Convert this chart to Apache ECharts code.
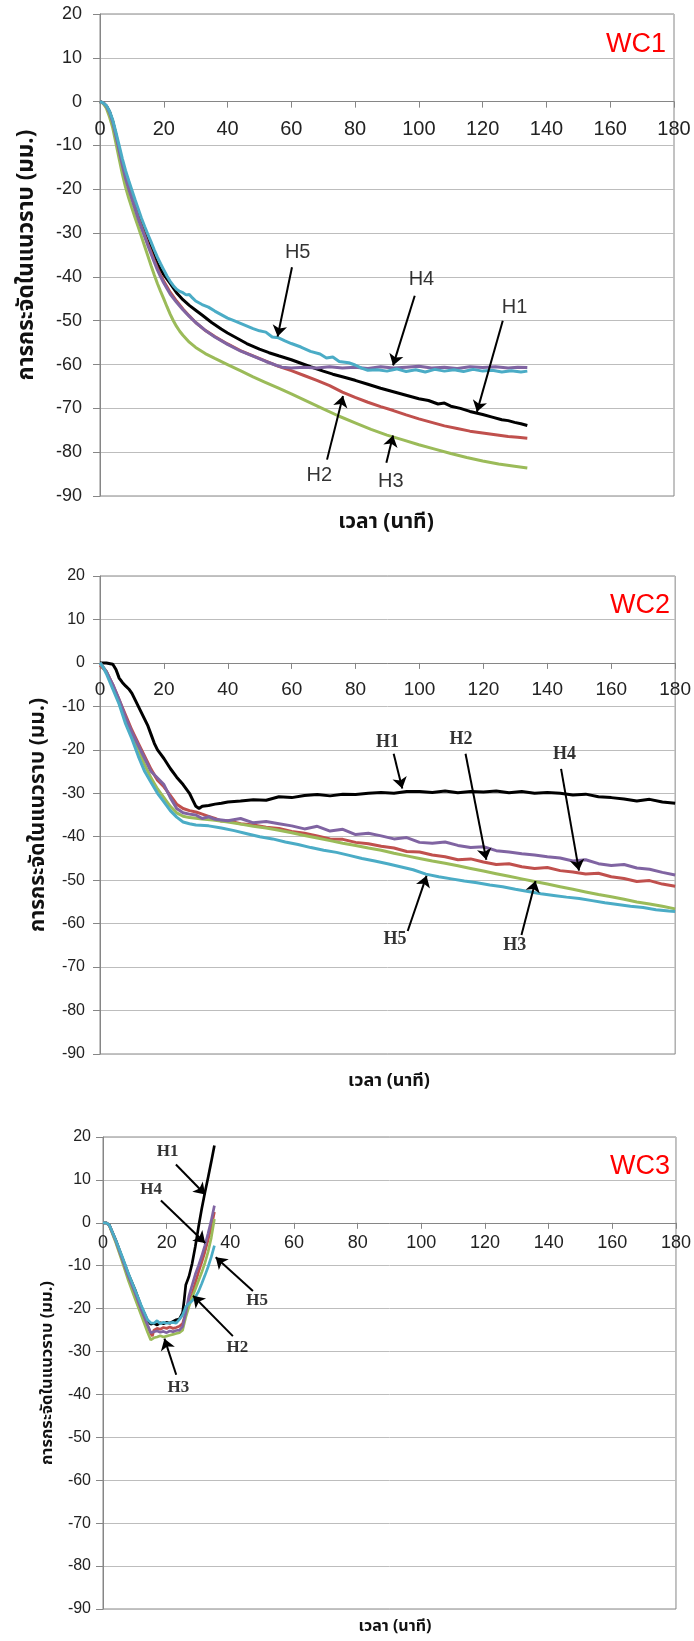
<!DOCTYPE html>
<html>
<head>
<meta charset="utf-8">
<script src="https://cdn.jsdelivr.net/npm/echarts@6/dist/echarts.min.js"></script>
<style>
html,body{margin:0;padding:0;background:#fff;}
#chart{width:694px;height:1641px;}
</style>
</head>
<body>
<div id="chart"></div>
<script>
// ---------- tick / axis data ----------
const xTicks = {min: 0, max: 180, interval: 20};
const yTicks = {min: -90, max: 20, interval: 10};
const yTitle = 'การกระจัดในแนวราบ (มม.)';
const xTitle = 'เวลา (นาที)';
const panelNames = ['WC1', 'WC2', 'WC3'];
const seriesNames = ['H1', 'H2', 'H3', 'H4', 'H5'];

// ---------- WC1 ----------
const wc1H1 = [[0,0],[1,-0.3],[2,-1],[3,-2.3],[4,-4.5],[5,-7.5],[6,-11],[7,-14],[8,-17],[9,-19.3],[10,-21.5],[11,-23.8],[12,-26],[13,-28],[14,-30],[15,-31.8],[16,-33.5],[17,-35.3],[18,-37],[19,-38.3],[20,-39.5],[22,-41.5],[24,-43.6],[26,-45.2],[28,-46.5],[30,-47.6],[32,-48.7],[35,-50.4],[38,-51.9],[40,-52.8],[43,-54],[46,-55.2],[50,-56.5],[53,-57.3],[56,-58],[60,-58.9],[63,-59.7],[66,-60.5],[70,-61.5],[73,-62.2],[76,-62.8],[80,-63.6],[84,-64.5],[88,-65.4],[92,-66.2],[96,-67],[100,-67.8],[103,-68.2],[106,-69],[108,-68.8],[110,-69.5],[113,-70],[116,-70.7],[120,-71.4],[123,-72],[126,-72.6],[128,-72.8],[130,-73.2],[132,-73.5],[134,-73.9]];
const wc1H2 = [[0,0],[1,-0.3],[2,-1],[3,-2.5],[4,-4.7],[5,-7.8],[6,-11.2],[7,-14.5],[8,-17.5],[9,-19.8],[10,-22],[11,-24.3],[12,-26.5],[13,-28.5],[14,-30.5],[15,-32.5],[16,-34.3],[17,-36.2],[18,-38],[19,-39.6],[20,-41],[22,-43.5],[24,-45.5],[26,-47.3],[28,-48.9],[30,-50.4],[33,-52.2],[36,-53.6],[40,-55.3],[44,-56.8],[48,-58],[52,-59.2],[56,-60.4],[60,-61.4],[64,-62.5],[68,-63.6],[72,-64.8],[76,-66.3],[80,-67.5],[84,-68.6],[88,-69.6],[92,-70.5],[96,-71.5],[100,-72.4],[104,-73.2],[108,-74],[112,-74.6],[116,-75.2],[120,-75.6],[124,-76],[128,-76.4],[131,-76.6],[134,-76.8]];
const wc1H3 = [[0,0],[1,-0.4],[2,-1.5],[3,-3.5],[4,-6],[5,-9.5],[6,-13],[7,-16.5],[8,-19.5],[9,-22],[10,-24.3],[11,-26.5],[12,-28.6],[13,-30.8],[14,-33],[15,-35.2],[16,-37.4],[17,-39.5],[18,-41.5],[19,-43.3],[20,-45],[21,-46.8],[22,-48.5],[23,-50],[24,-51.3],[25,-52.4],[26,-53.3],[28,-54.9],[30,-56.1],[33,-57.5],[36,-58.6],[40,-60],[44,-61.4],[48,-62.8],[52,-64.1],[56,-65.4],[60,-66.7],[65,-68.4],[70,-70.1],[75,-71.8],[80,-73.3],[85,-74.8],[90,-76.1],[95,-77.2],[100,-78.3],[105,-79.3],[110,-80.3],[115,-81.2],[120,-82],[125,-82.7],[130,-83.2],[134,-83.6]];
const wc1H4 = [[0,0],[1,-0.3],[2,-1],[3,-2.5],[4,-4.7],[5,-7.8],[6,-11.2],[7,-14.5],[8,-17.5],[9,-19.9],[10,-22.2],[11,-24.5],[12,-26.8],[13,-28.8],[14,-30.8],[15,-32.8],[16,-34.7],[17,-36.6],[18,-38.4],[19,-40],[20,-41.4],[22,-43.9],[24,-45.8],[26,-47.5],[28,-49],[30,-50.4],[33,-52.2],[36,-53.7],[40,-55.4],[44,-56.9],[48,-58.1],[52,-59.3],[55,-60.1],[57,-60.6],[60,-60.8],[64,-60.6],[68,-60.8],[72,-60.5],[76,-60.8],[80,-60.6],[84,-60.9],[88,-60.5],[92,-60.8],[96,-60.6],[100,-60.4],[104,-60.8],[108,-60.6],[112,-60.9],[116,-60.5],[120,-60.7],[124,-60.5],[128,-60.8],[131,-60.6],[134,-60.7]];
const wc1H5 = [[0,0],[1,-0.3],[2,-0.9],[3,-2.2],[4,-4.2],[5,-7],[6,-10],[7,-13],[8,-15.7],[9,-18],[10,-20.2],[11,-22.4],[12,-24.5],[13,-26.6],[14,-28.5],[15,-30.3],[16,-32],[17,-33.8],[18,-35.5],[19,-37],[20,-38.4],[21,-39.8],[22,-41],[23,-42],[24,-42.8],[25,-43.3],[26,-43.6],[27,-44.1],[28,-44],[29,-44.8],[30,-45.5],[32,-46.3],[34,-46.9],[36,-47.8],[38,-48.6],[40,-49.4],[42,-50],[45,-50.9],[48,-51.8],[50,-52.3],[52,-52.6],[54,-53.7],[56,-53.9],[58,-54.6],[60,-55.2],[63,-56],[66,-57],[69,-57.6],[71,-58.5],[73,-58.3],[75,-59.3],[78,-59.6],[80,-60.1],[82,-60.8],[84,-61.3],[87,-61.2],[90,-61.5],[93,-61],[96,-61.6],[99,-61.2],[102,-61.7],[105,-61.1],[108,-61.5],[111,-61.2],[114,-61.6],[117,-61.1],[120,-61.5],[123,-61.3],[126,-61.7],[129,-61.4],[132,-61.7],[134,-61.5]];

// ---------- WC2 ----------
const wc2H1 = [[0,0],[2,0],[4,-0.3],[5,-1.5],[6,-3.5],[7,-4.5],[8,-5.3],[9,-6],[10,-7],[11,-8.5],[12,-10],[13,-11.5],[14,-13],[15,-14.5],[16,-16.5],[17,-18.5],[18,-20],[19,-21],[20,-22],[22,-24.3],[24,-26.3],[26,-28],[28,-30],[29,-31.5],[30,-33],[31,-33.5],[32,-33],[34,-32.8],[36,-32.5],[38,-32.3],[40,-32],[44,-31.8],[48,-31.5],[52,-31.6],[56,-30.8],[60,-31],[64,-30.5],[68,-30.3],[72,-30.6],[76,-30.2],[80,-30.3],[84,-30],[88,-29.8],[92,-30],[96,-29.6],[100,-29.6],[104,-29.8],[108,-29.5],[112,-29.9],[116,-29.6],[120,-29.7],[124,-29.5],[128,-29.9],[132,-29.6],[136,-30],[140,-29.8],[144,-30],[148,-30.4],[152,-30.2],[156,-30.8],[160,-31],[164,-31.3],[168,-31.8],[172,-31.4],[176,-32],[180,-32.3]];
const wc2H2 = [[0,-0.5],[2,-2],[4,-5],[6,-8.5],[8,-12],[10,-15.5],[12,-18.5],[14,-21.5],[16,-24.5],[18,-27],[20,-28.5],[22,-30.5],[24,-32.5],[26,-33.5],[28,-34],[30,-34.3],[32,-34.8],[34,-35.3],[36,-35.8],[38,-36.4],[40,-36.3],[44,-37],[48,-37.3],[52,-37.8],[56,-38.1],[60,-38.8],[64,-39.2],[68,-39.8],[72,-40.5],[76,-40.6],[80,-41.3],[84,-41.6],[88,-42.2],[92,-42.6],[96,-43.4],[100,-43.5],[104,-44.2],[108,-44.6],[112,-45.3],[116,-45.1],[120,-45.8],[124,-46.4],[128,-46.2],[132,-46.9],[136,-47.3],[140,-47.1],[144,-47.8],[148,-48.1],[152,-48.6],[156,-48.4],[160,-49.2],[164,-49.6],[168,-50.3],[172,-50.1],[176,-50.9],[180,-51.4]];
const wc2H3 = [[0,0],[2,-2],[4,-5.5],[6,-9],[8,-13],[10,-16.5],[12,-20],[14,-23.5],[16,-26.5],[18,-29],[20,-31],[22,-33],[24,-34.5],[26,-35.3],[28,-35.6],[32,-35.9],[36,-36.2],[40,-36.6],[44,-37.1],[48,-37.6],[52,-38],[56,-38.5],[60,-39.1],[64,-39.7],[68,-40.3],[72,-40.9],[76,-41.5],[80,-42],[84,-42.6],[88,-43.1],[92,-43.8],[96,-44.4],[100,-45],[104,-45.6],[108,-46.1],[112,-46.7],[116,-47.3],[120,-47.9],[124,-48.5],[128,-49.1],[132,-49.7],[136,-50.3],[140,-50.9],[144,-51.5],[148,-52.1],[152,-52.7],[156,-53.3],[160,-53.8],[164,-54.4],[168,-55],[172,-55.5],[176,-56],[180,-56.6]];
const wc2H4 = [[0,0],[2,-2],[4,-5],[6,-8.5],[8,-12.5],[10,-16],[12,-19],[14,-22],[16,-25],[18,-26.5],[20,-28],[22,-31],[24,-33.5],[26,-34.5],[28,-34.8],[30,-35],[32,-35.8],[34,-35.4],[36,-36],[40,-36.3],[44,-35.8],[48,-36.8],[52,-36.5],[56,-37],[60,-37.5],[64,-38.2],[68,-37.6],[72,-38.7],[76,-38.3],[80,-39.5],[84,-39.2],[88,-39.8],[92,-40.5],[96,-40.2],[100,-41.3],[104,-41.5],[108,-41.2],[112,-42],[116,-42.5],[120,-42.3],[124,-43.2],[128,-43.5],[132,-43.9],[136,-44.2],[140,-44.6],[144,-44.9],[148,-45.6],[152,-45.3],[156,-46.2],[160,-46.6],[164,-46.4],[168,-47.2],[172,-47.5],[176,-48.2],[180,-48.8]];
const wc2H5 = [[0,0],[1,-1],[2,-2.5],[4,-6],[6,-9.5],[8,-14],[10,-17.5],[12,-21.5],[14,-25],[16,-27.5],[18,-30],[20,-32],[22,-34],[24,-35.5],[26,-36.6],[28,-37],[30,-37.3],[34,-37.5],[38,-38],[42,-38.6],[46,-39.3],[50,-40],[54,-40.5],[58,-41.2],[62,-41.8],[66,-42.5],[70,-43.1],[74,-43.6],[78,-44.3],[82,-45],[86,-45.6],[90,-46.2],[94,-46.9],[98,-47.6],[102,-48.6],[106,-49.2],[110,-49.7],[114,-50.2],[118,-50.6],[122,-51.1],[126,-51.5],[130,-52.1],[134,-52.6],[138,-53.1],[142,-53.5],[146,-53.9],[150,-54.2],[154,-54.7],[158,-55.2],[162,-55.6],[166,-56],[170,-56.3],[174,-56.8],[178,-57.1],[180,-57.2]];

// ---------- WC3 ----------
const wc3H1 = [[0,0],[1,0],[2,-0.5],[4,-4],[6,-8],[8,-12],[10,-15.5],[12,-19.5],[14,-22.8],[15,-23.6],[16,-23.4],[17,-23.8],[18,-23.3],[19,-23.5],[20,-23.2],[21,-23.4],[22,-23],[23,-22.6],[24,-22.4],[24.5,-22],[25,-21],[25.5,-18],[26,-14.5],[27,-12.5],[28,-9.5],[29,-5.5],[30,-1],[31,3.2],[32,7],[33,10.5],[34,14.2],[35,18]];
const wc3H2 = [[0,0],[1,0],[2,-0.6],[4,-4.3],[6,-8.5],[8,-12.8],[10,-16.5],[12,-20.5],[14,-24],[15,-25.8],[15.5,-26.4],[16,-25],[17,-24.6],[18,-24.8],[19,-24.4],[20,-24.6],[21,-24.3],[22,-24.6],[23,-24.4],[24,-24.1],[25,-23.5],[26,-21],[27,-18.5],[28,-16.5],[29,-14],[30,-11.5],[31,-9.2],[32,-6.8],[33,-4],[34,-1],[35,2.5]];
const wc3H3 = [[0,0],[1,0],[2,-0.7],[4,-4.6],[6,-9],[8,-13.5],[10,-17.5],[12,-21.5],[14,-25.5],[15,-27.3],[15.5,-27.6],[16,-26.8],[17,-26.6],[18,-26.3],[19,-26.6],[20,-26.4],[21,-26.2],[22,-26],[23,-25.8],[24,-25.6],[25,-25],[26,-22],[27,-19.5],[28,-17.4],[29,-15.5],[30,-13.5],[31,-11.6],[32,-9.4],[33,-6.8],[34,-3.5],[35,0.9]];
const wc3H4 = [[0,0],[1,0],[2,-0.6],[4,-4.2],[6,-8.3],[8,-12.5],[10,-16.2],[12,-20.2],[14,-23.8],[15,-25.6],[15.5,-26],[16,-25.4],[17,-25.2],[18,-25.5],[19,-25.3],[20,-25.6],[21,-25.2],[22,-25.4],[23,-25.1],[24,-25],[25,-24.2],[26,-21],[27,-17],[28,-14.5],[29,-12],[30,-10],[31,-7.8],[32,-5.3],[33,-2.5],[34,0.5],[35,4]];
const wc3H5 = [[0,0],[1,0],[2,-0.5],[4,-4],[6,-7.8],[8,-11.8],[10,-15.5],[12,-19.2],[14,-22.6],[15,-23.3],[16,-23.4],[17,-22.8],[18,-23.5],[19,-23.2],[20,-23.4],[21,-23.3],[22,-23.2],[23,-23.4],[24,-22.5],[25,-21.5],[26,-19.6],[27,-18.8],[28,-18.2],[29,-17.3],[30,-16],[31,-14.2],[32,-12.3],[33,-10.3],[34,-8],[35,-5.3]];

// ---------- annotations (data space) ----------
const wc1Notes = ['H5','H4','H1','H2','H3'];
const wc1NoteAt = [[62,-34.4],[100.8,-40.7],[130,-47],[68.8,-85.3],[91.2,-86.6]];
const wc1ArrowFrom = [[60.2,-37.8],[98.7,-44.3],[126.3,-50],[71.2,-81.7],[89.8,-82.4]];
const wc1ArrowTo = [[55.7,-53.6],[91.9,-60.2],[118.2,-70.8],[76.2,-67.2],[91.9,-76.2]];

const wc2Notes = ['H1','H2','H4','H5','H3'];
const wc2NoteAt = [[90,-18.2],[113,-17.6],[145.4,-21.1],[92.3,-63.6],[129.8,-65]];
const wc2ArrowFrom = [[91.9,-20.9],[114.4,-20.9],[144.3,-24.4],[96.3,-61.7],[131.9,-62.6]];
const wc2ArrowTo = [[94.6,-28.9],[120.9,-45.3],[149.9,-47.8],[102.2,-49],[136.3,-50.2]];

const wc3Notes = ['H1','H4','H5','H2','H3'];
const wc3NoteAt = [[20.3,16.6],[15.1,7.8],[48.4,-18.2],[42.2,-29.1],[23.7,-38.3]];
const wc3ArrowFrom = [[22.9,13.6],[18.2,5.2],[47.1,-15.9],[40.8,-26.4],[23,-35.4]];
const wc3ArrowTo = [[32.1,6.6],[32.1,-4.7],[35.4,-8],[28.3,-17],[19.3,-27]];

// ---------- styling / layout ----------
const colors = ['#000000', '#c0504d', '#9bbb59', '#8064a2', '#4bacc6'];
const panels = [
  {grid: {left: 100, top: 14, width: 574, height: 482}, lines: [wc1H1, wc1H2, wc1H3, wc1H4, wc1H5],
   notes: wc1Notes, noteAt: wc1NoteAt, from: wc1ArrowFrom, to: wc1ArrowTo,
   lw: 3, xFont: 20, yFont: 18, xMargin: 18, yMargin: 18, nameGap: 60, nameFont: 22.5, xNameFont: 21,
   noteFont: {fontSize: 20, fontFamily: 'Liberation Sans, Arial, sans-serif', fontWeight: 'normal'},
   tag: {left: 606, top: 31}, xName: {left: 386, top: 513}},
  {grid: {left: 100, top: 576, width: 579, height: 478}, lines: [wc2H1, wc2H2, wc2H3, wc2H4, wc2H5],
   notes: wc2Notes, noteAt: wc2NoteAt, from: wc2ArrowFrom, to: wc2ArrowTo,
   lw: 3, xFont: 19, yFont: 16, xMargin: 17, yMargin: 15, nameGap: 50, nameFont: 21, xNameFont: 18,
   noteFont: {fontSize: 18, fontFamily: 'Liberation Serif, Times New Roman, serif', fontWeight: 'bold'},
   tag: {left: 610, top: 592}, xName: {left: 389, top: 1073}},
  {grid: {left: 103, top: 1137, width: 578, height: 472}, lines: [wc3H1, wc3H2, wc3H3, wc3H4, wc3H5],
   notes: wc3Notes, noteAt: wc3NoteAt, from: wc3ArrowFrom, to: wc3ArrowTo,
   lw: 2.7, xFont: 18, yFont: 16, xMargin: 11, yMargin: 12, nameGap: 33, nameFont: 16.5, xNameFont: 16,
   noteFont: {fontSize: 17, fontFamily: 'Liberation Serif, Times New Roman, serif', fontWeight: 'bold'},
   tag: {left: 610, top: 1153}, xName: {left: 395, top: 1620}}
];

const labelFont = 'Liberation Sans, Arial, sans-serif';
const thaiFont = 'Tahoma, "Noto Sans Thai", "Noto Sans", "DejaVu Sans", sans-serif';

const option = {
  animation: false,
  backgroundColor: '#ffffff',
  grid: [], xAxis: [], yAxis: [], series: [], title: []
};

panels.forEach((p, i) => {
  option.grid.push(Object.assign({show: true, borderColor: '#868686', borderWidth: 1, backgroundColor: '#fff'}, p.grid));
  // x axis drawn along the y = 0 line: a top axis shifted down by the share of the y range above zero
  const zeroShift = p.grid.height * (yTicks.max - 0) / (yTicks.max - yTicks.min);
  option.xAxis.push({
    type: 'value', gridIndex: i, min: xTicks.min, max: xTicks.max, interval: xTicks.interval,
    position: 'top', offset: -zeroShift,
    axisLine: {onZero: false, lineStyle: {color: '#868686', width: 1}},
    axisTick: {show: true, inside: true, length: 6, lineStyle: {color: '#868686'}},
    axisLabel: {inside: true, fontSize: p.xFont, color: '#222', fontFamily: labelFont, margin: p.xMargin, showMinLabel: true, showMaxLabel: true},
    splitLine: {show: false}
  });
  option.yAxis.push({
    type: 'value', gridIndex: i, min: yTicks.min, max: yTicks.max, interval: yTicks.interval,
    axisLine: {show: true, onZero: false, lineStyle: {color: '#868686', width: 1}},
    axisTick: {show: true, length: 7, lineStyle: {color: '#868686'}},
    axisLabel: {fontSize: p.yFont, color: '#222', fontFamily: labelFont, margin: p.yMargin},
    splitLine: {show: true, lineStyle: {color: '#bdbdbd', width: 1}},
    name: yTitle, nameLocation: 'middle', nameRotate: 90, nameGap: p.nameGap,
    nameTextStyle: {fontSize: p.nameFont, fontWeight: 'bold', color: '#111', fontFamily: thaiFont}
  });
  p.lines.forEach((d, k) => {
    option.series.push({
      name: panelNames[i] + ' ' + seriesNames[k], type: 'line', xAxisIndex: i, yAxisIndex: i,
      data: d, showSymbol: false, symbol: 'none', smooth: false,
      lineStyle: {color: colors[k], width: p.lw}, itemStyle: {color: colors[k]}, z: 3 + k
    });
  });
  option.series.push({
    type: 'lines', coordinateSystem: 'cartesian2d', xAxisIndex: i, yAxisIndex: i,
    data: p.from.map((f, k) => ({coords: [f, p.to[k]]})),
    symbol: ['none', 'arrow'], symbolSize: [0, 11],
    lineStyle: {color: '#000', width: 2, opacity: 1}, z: 20
  });
  option.series.push({
    type: 'scatter', xAxisIndex: i, yAxisIndex: i,
    data: p.noteAt.map((a, k) => [a[0], a[1], p.notes[k]]),
    symbolSize: 1, itemStyle: {color: 'rgba(0,0,0,0)'},
    label: Object.assign({show: true, position: 'inside', color: '#000', formatter: q => q.value[2]}, p.noteFont),
    z: 21
  });
  option.title.push({
    text: panelNames[i], left: p.tag.left, top: p.tag.top, padding: 0,
    textStyle: {color: '#ff0000', fontSize: 27, fontWeight: 'normal', fontFamily: labelFont}
  });
  option.title.push({
    text: xTitle, left: p.xName.left, top: p.xName.top, textAlign: 'center', padding: 0,
    textStyle: {color: '#111', fontSize: p.xNameFont, fontWeight: 'bold', fontFamily: thaiFont}
  });
});

const chart = echarts.init(document.getElementById('chart'), null, {renderer: 'canvas'});
chart.setOption(option);
</script>
</body>
</html>
